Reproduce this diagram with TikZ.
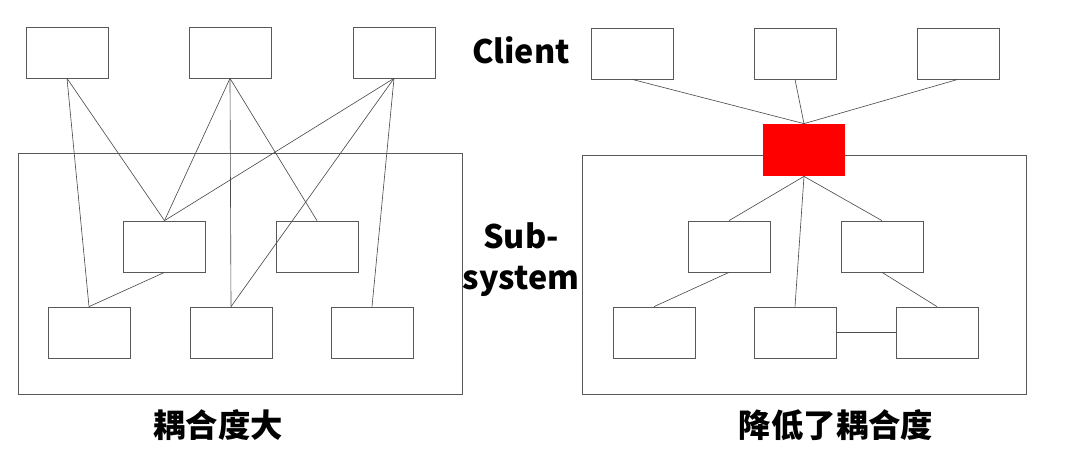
\documentclass[tikz,border=0pt]{standalone}
\usepackage{fontspec}
\newfontfamily\cjk{Noto Sans CJK SC}
\usetikzlibrary{positioning}

\begin{document}
\begin{tikzpicture}[x=0.025cm,y=-0.025cm,line width=0.5pt,
  box/.style={draw=black!65,fill=white,minimum width=2.05cm,minimum height=1.275cm,inner sep=0pt},
  hub/.style={fill=red,minimum width=2.05cm,minimum height=1.3cm,inner sep=0pt},
  link/.style={draw=black!70,line width=0.45pt},
  lbl/.style={font=\cjk\bfseries\fontsize{23}{29}\selectfont,align=center,inner sep=0pt}]

  \useasboundingbox (0,0) rectangle (1088,461);

  % left: every client talks to the subsystem directly
  \draw[black!65] (18,153) rectangle (462,394);
  \node[box] (c1) at (67,52.5) {};
  \node[box] (c2) at (230,52.5) {};
  \node[box] (c3) at (394,52.5) {};
  \node[box] (a) at (164.5,246.5) {};
  \node[box] (b) at (317,246.5) {};
  \node[box] (s1) at (89,332.5) {};
  \node[box] (s2) at (231,332.5) {};
  \node[box] (s3) at (372,332.5) {};

  \path[link]
    (c1.south) edge (s1.north)
               edge (a.north)
    (c2.south) edge (a.north)
               edge (s2.north)
               edge (b.north)
    (c3.south) edge (a.north)
               edge (s2.north)
               edge (s3.north)
    (a.south)  edge (s1.north);

  % right: one facade in between
  \draw[black!65] (582,155) rectangle (1026,394);
  \node[box] (d1) at (632,53.5) {};
  \node[box] (d2) at (795,53.5) {};
  \node[box] (d3) at (958,53.5) {};
  \node[hub] (f) at (804,150) {};
  \node[box] (m1) at (729,246.5) {};
  \node[box] (m2) at (882,246.5) {};
  \node[box] (t1) at (654,332.5) {};
  \node[box] (t2) at (795,332.5) {};
  \node[box] (t3) at (937,332.5) {};

  \path[link]
    (d1.south) edge (f.north)
    (d2.south) edge (f.north)
    (d3.south) edge (f.north)
    (f.south)  edge (m1.north)
               edge (m2.north)
               edge (t2.north)
    (m1.south) edge (t1.north)
    (m2.south) edge (t3.north)
    (t2.east)  edge (t3.west);

  \node[lbl] (client) at (521,50) {Client};
  \node[lbl] (sub) at (521,260) {Sub-\\system};
  \node[lbl] (high) at (218,425) {耦合度大};
  \node[lbl] (low) at (836,425) {降低了耦合度};

\end{tikzpicture}
\end{document}
